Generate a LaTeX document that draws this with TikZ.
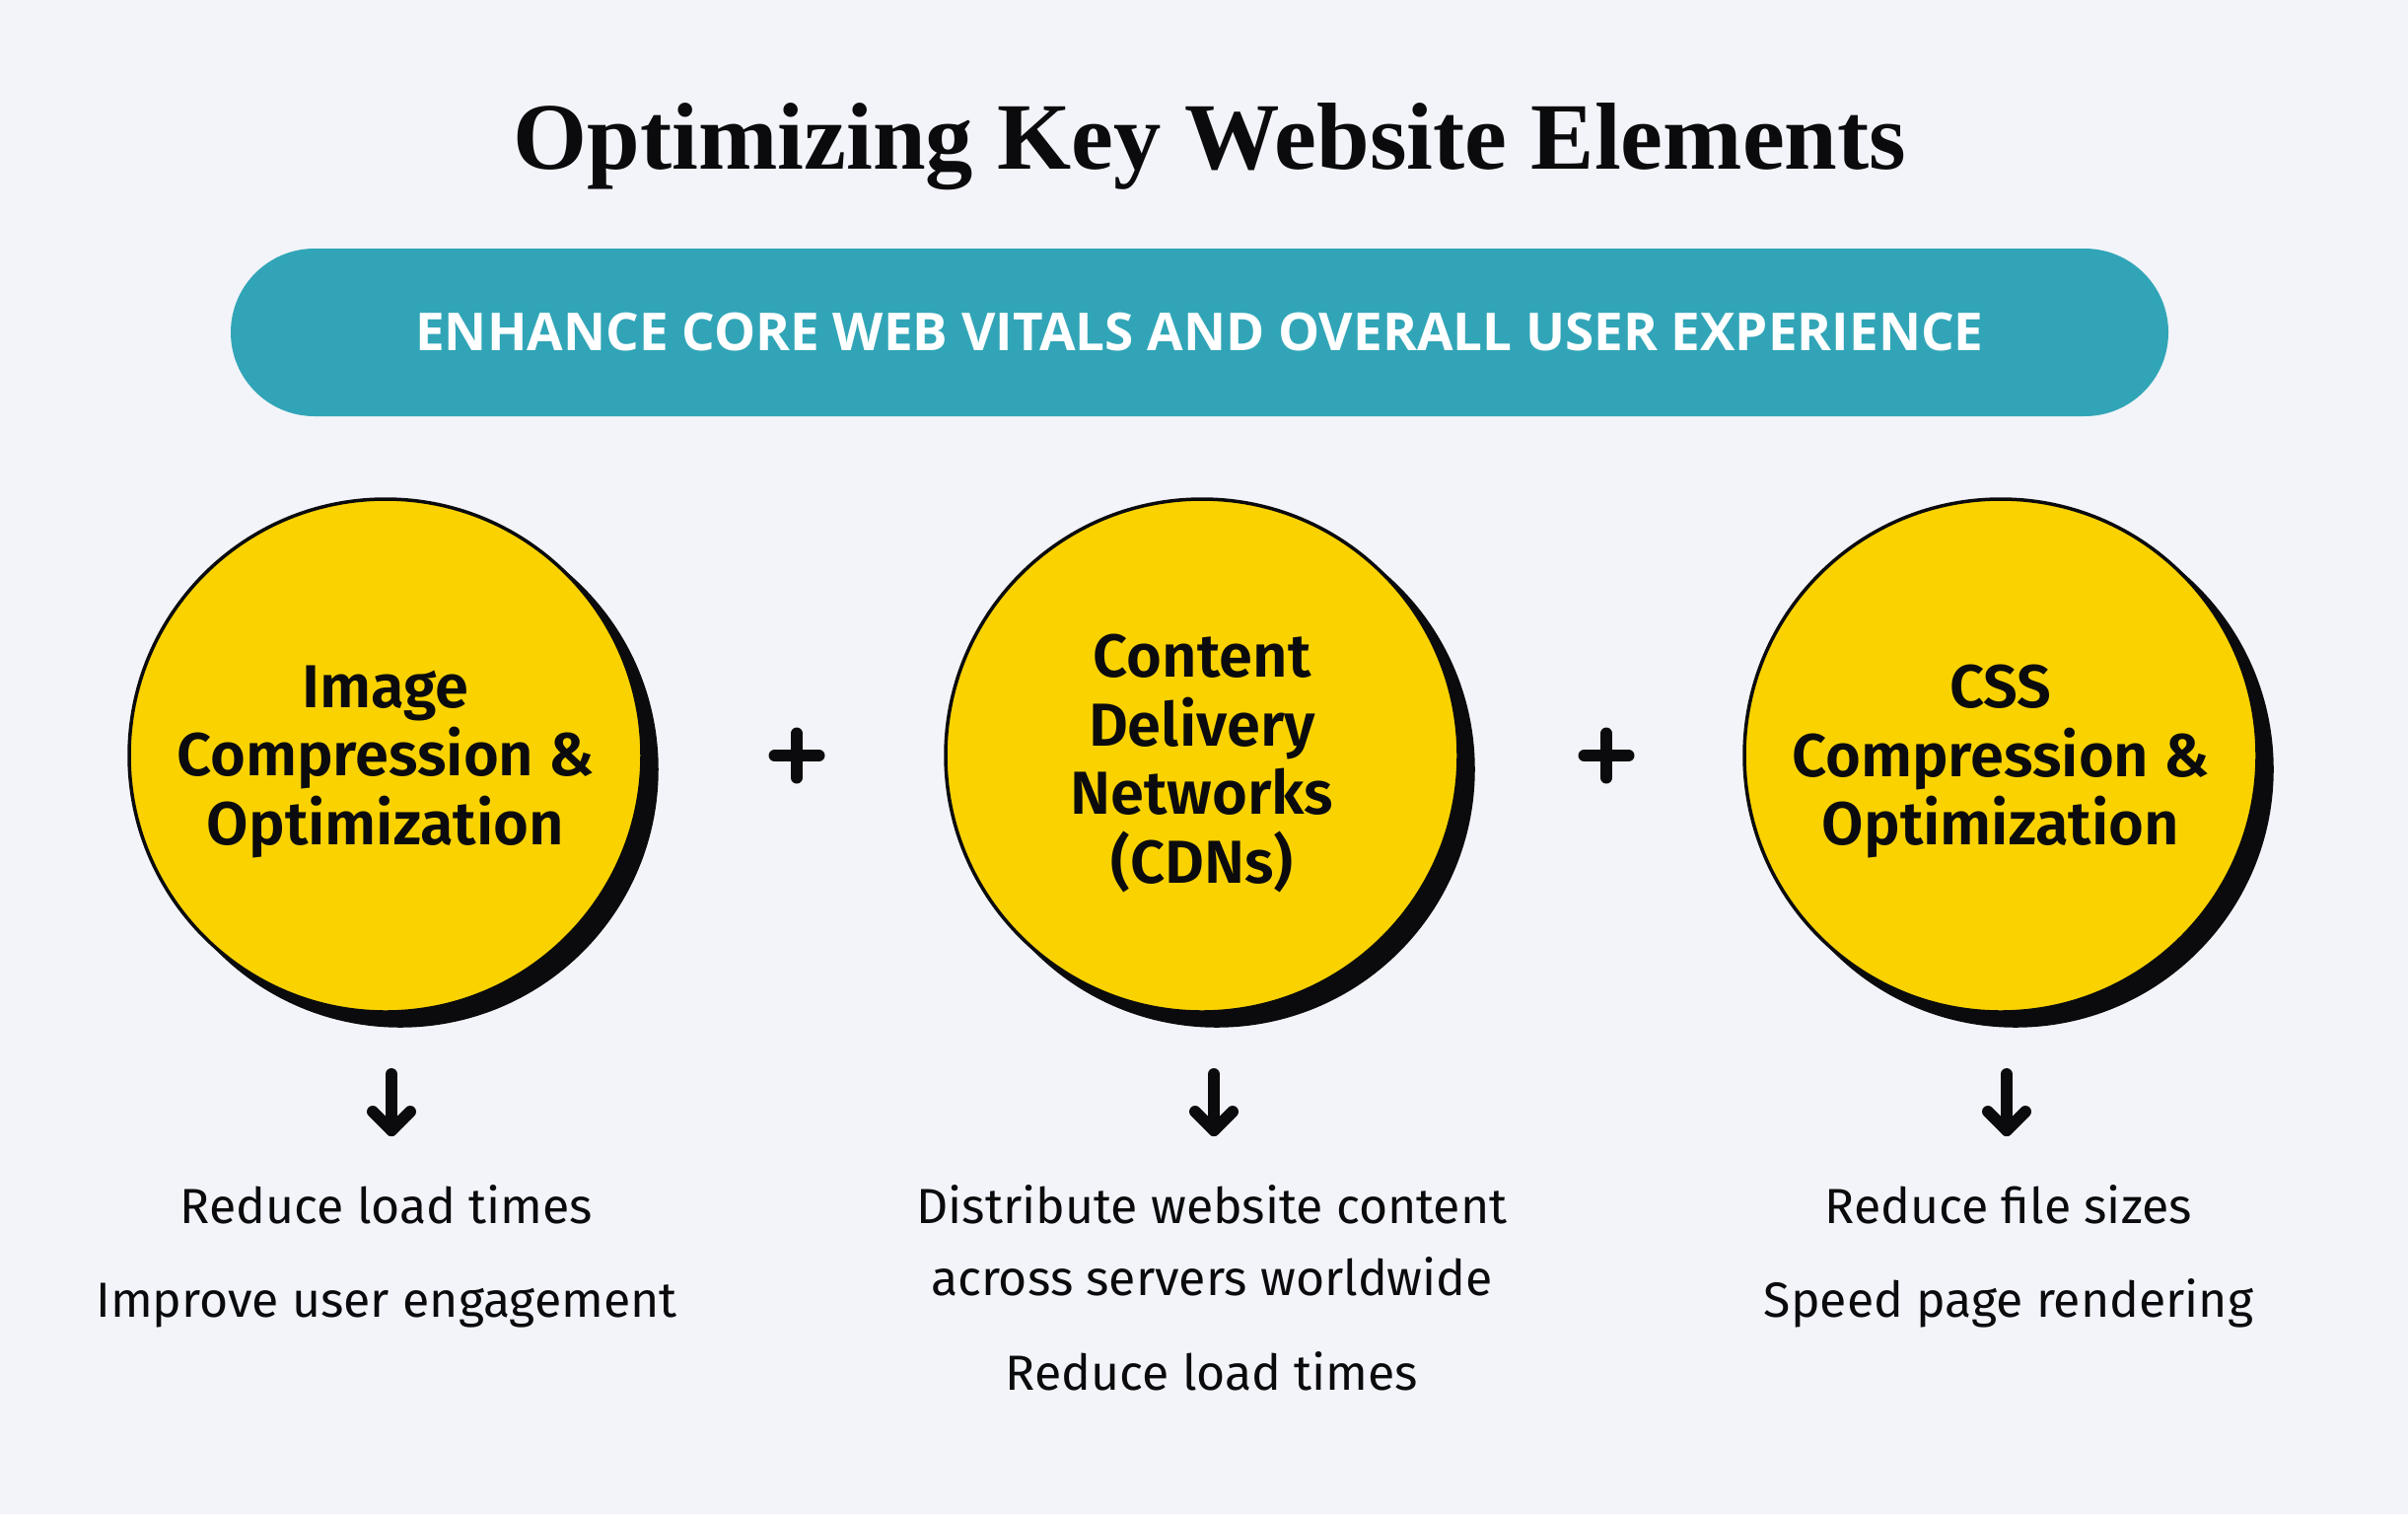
\documentclass[tikz,border=0pt]{standalone}
\usepackage{fontspec}
\setmainfont{Fira Sans}
\newfontfamily\semib{Fira Sans SemiBold}
\newfontfamily\titlefont{Liberation Serif}
\newfontfamily\bannerfont{Open Sans}
\usetikzlibrary{shadows}
\definecolor{bgc}{HTML}{F2F4F9}
\definecolor{teal}{HTML}{31A5B7}
\definecolor{yel}{HTML}{F9D200}
\definecolor{ink}{HTML}{0B0B0D}
\tikzset{
  bubble/.style={circle, draw=ink, line width=3.5pt, fill=yel, minimum size=520pt, inner sep=0pt,
    drop shadow={shadow xshift=15pt, shadow yshift=-14pt, opacity=1, fill=ink, draw=ink}},
  bubbletext/.style={align=center, text=ink, inner sep=0pt, font=\semib\fontsize{61.5}{69.5}\selectfont},
  plussign/.style={draw=ink, line width=12pt, line cap=round},
  downarrow/.style={draw=ink, line width=12pt, line cap=round, line join=round},
  item/.style={text=ink, font=\fontsize{50}{70}\selectfont, align=center, anchor=base, inner sep=0pt},
  banner/.style={fill=teal, rounded corners=85pt, minimum width=1965pt, minimum height=170pt,
    text=white, font=\bannerfont\bfseries\fontsize{53}{60}\selectfont},
}
\begin{document}
\begin{tikzpicture}[x=1pt, y=-1pt]
\fill[bgc] (0,0) rectangle (2442,1535);
\useasboundingbox (0,0) rectangle (2442,1535);

\node[anchor=base, inner sep=0pt, text=ink, font=\titlefont\bfseries\fontsize{96.5}{100}\selectfont] (title) at (1227,171) {Optimizing Key Website Elements};

\node[banner] (ban) at (1216.5,337) {ENHANCE CORE WEB VITALS AND OVERALL USER EXPERIENCE};

\node[bubble] (c1) at (391,766) {};
\node[bubble] (c2) at (1219,766) {};
\node[bubble] (c3) at (2029,766) {};
\node[bubbletext] (l1) at ([yshift=-6pt]c1.center) {Image\\Compression \&\\Optimization};
\node[bubbletext] (l2) at ([yshift=-8pt]c2.center) {Content\\Delivery\\Networks\\(CDNs)};
\node[bubbletext] (l3) at ([yshift=-6pt]c3.center) {CSS\\Compression \&\\Optimization};

% plus signs
\coordinate (p1) at (808,766);
\coordinate (p2) at (1629,766);
\foreach \p in {p1,p2}{
  \draw[plussign] ([xshift=-22.5pt]\p) -- ([xshift=22.5pt]\p);
  \draw[plussign] ([yshift=-22.5pt]\p) -- ([yshift=22.5pt]\p);
}

% arrows
\coordinate (a1) at (397,1089);
\coordinate (b1) at (397,1146);
\coordinate (a2) at (1231,1089);
\coordinate (b2) at (1231,1146);
\coordinate (a3) at (2035,1089);
\coordinate (b3) at (2035,1146);
\foreach \i in {1,2,3}{
  \draw[downarrow] (a\i) -- (b\i);
  \draw[downarrow] ([xshift=-19pt,yshift=19pt]b\i) -- (b\i) -- ([xshift=19pt,yshift=19pt]b\i);
}

% texts
\node[item] (t11) at (392,1240) {Reduce load times};
\node[item] (t12) at (392,1335) {Improve user engagement};
\node[item] (t21) at (1229,1240) {Distribute website content};
\node[item] (t22) at (1229,1313) {across servers worldwide};
\node[item] (t23) at (1229,1409) {Reduce load times};
\node[item] (t31) at (2037,1240) {Reduce file sizes};
\node[item] (t32) at (2037,1335) {Speed page rendering};
\end{tikzpicture}
\end{document}
